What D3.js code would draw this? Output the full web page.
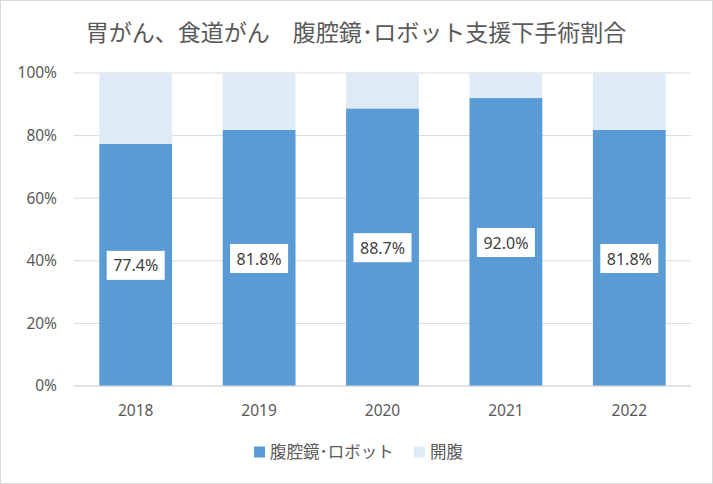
<!DOCTYPE html>
<html>
<head>
<meta charset="utf-8">
<script src="https://cdn.jsdelivr.net/npm/d3@7"></script>
<style>
  body { margin: 0; background: #fff; }
  svg { display: block; font-family: "Noto Sans", "Noto Sans CJK JP", sans-serif; }
</style>
</head>
<body>
<svg id="chart"></svg>
<script>
// データ
const years = ['2018', '2019', '2020', '2021', '2022'];
const laparoscopic = [77.4, 81.8, 88.7, 92.0, 81.8];
const seriesNames = ['腹腔鏡･ロボット', '開腹'];
const yTicks = [0, 20, 40, 60, 80, 100];
const title = '胃がん、食道がん\u3000腹腔鏡･ロボット支援下手術割合';

const width = 713, height = 484;
const margin = { top: 73, right: 22, bottom: 98, left: 74 };
const colors = ['#5b9bd5', '#deebf7'];

const svg = d3.select('#chart').attr('width', width).attr('height', height);

// 枠線
svg.append('rect')
  .attr('x', 0.5).attr('y', 0.5)
  .attr('width', width - 1).attr('height', height - 1)
  .attr('fill', '#fff').attr('stroke', '#d9d9d9');

const x = d3.scaleBand()
  .domain(years)
  .range([margin.left, width - margin.right])
  .paddingInner(0.41).paddingOuter(0.205);

const y = d3.scaleLinear()
  .domain([0, 100])
  .range([height - margin.bottom, margin.top]);

// グリッド線
svg.append('g')
  .selectAll('line')
  .data(yTicks)
  .enter()
  .append('line')
  .attr('x1', margin.left).attr('x2', width - margin.right)
  .attr('y1', d => y(d)).attr('y2', d => y(d))
  .attr('stroke', '#d9d9d9').attr('stroke-width', 1);

// Y軸ラベル
svg.append('g')
  .selectAll('text')
  .data(yTicks)
  .enter()
  .append('text')
  .attr('x', 57).attr('y', d => y(d))
  .attr('dy', '0.35em')
  .attr('text-anchor', 'end')
  .attr('fill', '#595959').attr('font-size', 15.5)
  .text(d => d + '%');

// 積み上げデータ
const rows = years.map((yr, i) => ({ year: yr, a: laparoscopic[i], b: 100 - laparoscopic[i] }));
const stack = d3.stack().keys(['a', 'b'])(rows);

svg.append('g')
  .selectAll('g')
  .data(stack)
  .enter()
  .append('g')
  .attr('fill', (d, i) => colors[i])
  .selectAll('rect')
  .data(d => d)
  .enter()
  .append('rect')
  .attr('x', d => x(d.data.year))
  .attr('width', x.bandwidth())
  .attr('y', d => y(d[1]))
  .attr('height', d => y(d[0]) - y(d[1]));

// X軸の基線
svg.append('line')
  .attr('x1', margin.left).attr('x2', width - margin.right)
  .attr('y1', y(0)).attr('y2', y(0))
  .attr('stroke', '#d9d9d9');

// X軸ラベル
svg.append('g')
  .selectAll('text')
  .data(years)
  .enter()
  .append('text')
  .attr('x', d => x(d) + x.bandwidth() / 2)
  .attr('y', 411)
  .attr('dy', '0.35em')
  .attr('text-anchor', 'middle')
  .attr('fill', '#595959').attr('font-size', 15.5)
  .text(d => d);

// データラベル
const labels = svg.append('g')
  .selectAll('g')
  .data(rows)
  .enter()
  .append('g')
  .attr('transform', d => `translate(${x(d.year) + x.bandwidth() / 2},${y(d.a / 2) + 1})`);

labels.append('rect')
  .attr('x', -29).attr('y', -15)
  .attr('width', 58).attr('height', 29)
  .attr('fill', '#fff');

labels.append('text')
  .attr('text-anchor', 'middle')
  .attr('dy', '0.35em')
  .attr('fill', '#404040').attr('font-size', 16)
  .text(d => d.a.toFixed(1) + '%');

// タイトル
svg.append('text')
  .attr('x', 356).attr('y', 33)
  .attr('dy', '0.35em')
  .attr('text-anchor', 'middle')
  .attr('fill', '#595959').attr('font-size', 23)
  .attr('font-family', '"Noto Sans CJK JP", sans-serif')
  .text(title);

// 凡例
const legendItems = [
  { name: seriesNames[0], color: colors[0], x: 254 },
  { name: seriesNames[1], color: colors[1], x: 414 }
];
const legend = svg.append('g')
  .selectAll('g')
  .data(legendItems)
  .enter()
  .append('g')
  .attr('transform', d => `translate(${d.x},452)`);

legend.append('rect')
  .attr('x', 0).attr('y', -5.5)
  .attr('width', 11).attr('height', 11)
  .attr('fill', d => d.color);

legend.append('text')
  .attr('x', 16).attr('dy', '0.35em')
  .attr('fill', '#595959').attr('font-size', 16.5)
  .attr('font-family', '"Noto Sans CJK JP", sans-serif')
  .text(d => d.name);
</script>
</body>
</html>
